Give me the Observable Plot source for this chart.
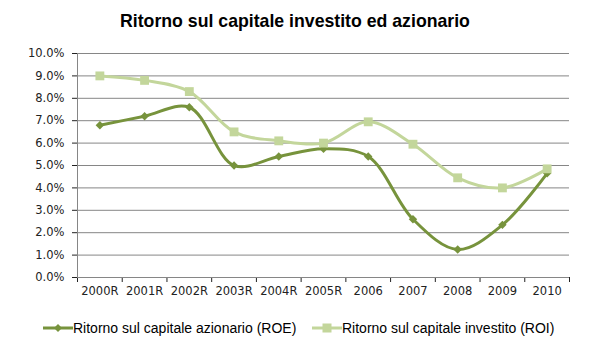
<!DOCTYPE html>
<html><head><meta charset="utf-8">
<script src="https://cdn.jsdelivr.net/npm/d3@7"></script>
<script src="https://cdn.jsdelivr.net/npm/@observablehq/plot@0.6"></script>
<style>
body{margin:0;background:#fff;width:597px;height:350px;position:relative;overflow:hidden}
#title{position:absolute;left:0;top:11px;width:590px;text-align:center;font:bold 17.7px "Liberation Sans",Arial,sans-serif;color:#000}
#chart{position:absolute;left:0;top:40px}
#legend{position:absolute;left:0;top:318px;width:597px;height:20px;font:14px "Liberation Sans",Arial,sans-serif;color:#000}
.item{position:absolute;top:0;display:flex;align-items:center;height:20px;white-space:nowrap}
</style></head>
<body>
<div id="title">Ritorno sul capitale investito ed azionario</div>
<div id="chart"></div>
<div id="legend"></div>
<script>
const categories = ["2000R","2001R","2002R","2003R","2004R","2005R","2006","2007","2008","2009","2010"];
const roe = [6.8,7.2,7.6,5.0,5.4,5.75,5.4,2.6,1.25,2.35,4.65];
const roi = [9.0,8.8,8.3,6.5,6.1,6.0,6.95,5.95,4.45,4.0,4.85];
const yTicks = [0,1,2,3,4,5,6,7,8,9,10];
const seriesNames = ["Ritorno sul capitale azionario (ROE)","Ritorno sul capitale investito (ROI)"];
const colors = ["#77933C","#C3D69B"];

const idx = categories.map((d,i)=>i);
const boundaries = [...idx.map(i=>i-0.5), categories.length-0.5];

const chart = Plot.plot({
  width:597, height:270,
  marginLeft:77, marginRight:28, marginTop:13, marginBottom:33,
  style:{fontFamily:"DejaVu Sans", fontSize:"11.5px", color:"#222", background:"#fff"},
  x:{type:"linear", domain:[-0.5, categories.length-0.5], ticks:boundaries, tickFormat:()=>"", tickSize:5, label:null},
  y:{domain:[0,10], ticks:yTicks, tickFormat:d=>d.toFixed(1)+"%", tickSize:5, tickPadding:8, label:null},
  marks:[
    Plot.ruleY(yTicks, {stroke:"#868686", strokeWidth:1}),
    Plot.ruleX([-0.5], {stroke:"#868686", strokeWidth:1}),
    Plot.text(categories, {x:(d,i)=>i, text:d=>d, frameAnchor:"bottom", dy:17, fill:"#222"}),
    Plot.line(idx, {x:d=>d, y:d=>roe[d], curve:"catmull-rom", stroke:colors[0], strokeWidth:3}),
    Plot.dot(idx, {x:d=>d, y:d=>roe[d], symbol:"diamond2", r:3.8, fill:colors[0], stroke:"none"}),
    Plot.line(idx, {x:d=>d, y:d=>roi[d], curve:"catmull-rom", stroke:colors[1], strokeWidth:3}),
    Plot.dot(idx, {x:d=>d, y:d=>roi[d], symbol:"square", r:5, fill:colors[1], stroke:"none"})
  ]
});
document.getElementById("chart").appendChild(chart);

const legend = document.getElementById("legend");
const lefts = [43, 312];
const syms = ["diamond","square"];
seriesNames.forEach((name,k)=>{
  const it = document.createElement("div");
  it.className="item"; it.style.left = lefts[k]+"px";
  const mk = syms[k]==="diamond"
    ? `<path d="M15 6 L19 10 L15 14 L11 10 Z" fill="${colors[k]}"/>`
    : `<rect x="10.5" y="5.5" width="9" height="9" fill="${colors[k]}"/>`;
  it.innerHTML = `<svg width="30" height="20"><line x1="0" y1="10" x2="30" y2="10" stroke="${colors[k]}" stroke-width="3"/>${mk}</svg><span>${name}</span>`;
  legend.appendChild(it);
});
</script>
</body></html>
